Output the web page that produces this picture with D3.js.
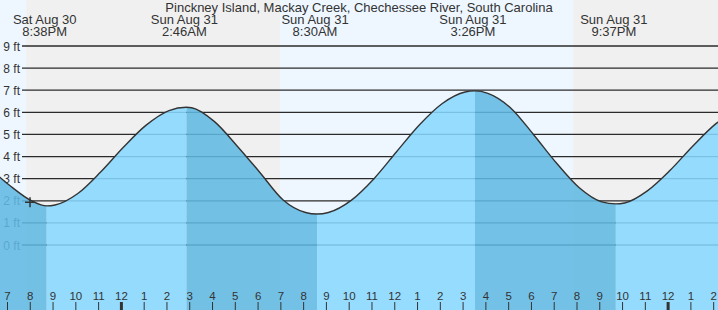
<!DOCTYPE html>
<html><head><meta charset="utf-8">
<script src="https://cdn.jsdelivr.net/npm/d3@7"></script>
<style>
body{margin:0;background:#fff;}
svg{display:block;}
text{font-family:"Liberation Sans",Arial,sans-serif;fill:#333;}
</style>
</head><body>
<svg id="c" width="718" height="310"></svg>
<script>
const title = "Pinckney Island, Mackay Creek, Chechessee River, South Carolina";
// hours relative to Sun Aug 31 00:00
const sampleHours = [-6,-5,-4,-3.367,-3,-2,-1,0,1,2,2.767,3,4,5,6,7,8,8.5,9,10,11,12,13,14,15,15.433,16,17,18,19,20,21,21.617,22,23,24,25,26,27];
const sampleFeet  = [3.60,2.70,1.98,1.77,1.81,2.33,3.30,4.42,5.42,6.08,6.23,6.21,5.58,4.47,3.27,2.05,1.47,1.40,1.47,2.02,3.00,4.23,5.44,6.40,6.92,6.97,6.86,6.20,5.00,3.72,2.60,1.95,1.86,1.90,2.45,3.38,4.48,5.48,6.14];
const extremeHours = [-3.367, 2.767, 8.5, 15.433, 21.617];
const extremeDays  = ["Sat Aug 30","Sun Aug 31","Sun Aug 31","Sun Aug 31","Sun Aug 31"];
const extremeTimes = ["8:38PM","2:46AM","8:30AM","3:26PM","9:37PM"];
const sunHours = [-4.27, 6.875, 19.74];      // sunset, sunrise, sunset
const tickHours = d3.range(-5, 27);
const tickLabels = ["7","8","9","10","11","12","1","2","3","4","5","6","7","8","9","10","11","12","1","2","3","4","5","6","7","8","9","10","11","12","1","2"];
const feetTicks = [0,1,2,3,4,5,6,7,8,9];
const nowHour = [-4.1];
const nowFeet = [1.98];

const W = 718, H = 310;
const svg = d3.select("#c");
const pxHour = 22.78;
const xT = d3.scaleLinear().domain([0, 24]).range([121.4, 121.4 + 24*pxHour]);   // labels/ticks
const xM = d3.scaleLinear().domain([0, 24]).range([123.4, 123.4 + 24*pxHour]);   // marks
const y = d3.scaleLinear().domain([0, 9]).range([245, 46]);

const tMin = xM.invert(0), tMax = xM.invert(W);

// background day/night bands
const bgEdges = [tMin, ...sunHours, tMax];
for (let i = 0; i < bgEdges.length - 1; i++) {
  svg.append("rect")
    .attr("x", xM(bgEdges[i])).attr("y", 0)
    .attr("width", xM(bgEdges[i+1]) - xM(bgEdges[i])).attr("height", H)
    .attr("fill", i % 2 === 0 ? "#eef7ff" : "#f0f0f0");
}

// gridlines
svg.append("g").selectAll("line").data(feetTicks).join("line")
  .attr("x1", 22).attr("x2", W)
  .attr("y1", d => y(d)).attr("y2", d => y(d))
  .attr("stroke", "#2b2b2b").attr("stroke-width", 1.3);

svg.append("g").selectAll("text").data(feetTicks).join("text")
  .attr("x", 20).attr("y", d => y(d) + 4.5)
  .attr("text-anchor", "end").attr("font-size", 12)
  .text(d => d + " ft");

// area
const pts = sampleHours.map((h, i) => [h, sampleFeet[i]]);
const area = d3.area().x(d => xM(d[0])).y0(H).y1(d => y(d[1])).curve(d3.curveMonotoneX);
const line = d3.line().x(d => xM(d[0])).y(d => y(d[1])).curve(d3.curveMonotoneX);

const defs = svg.append("defs");
defs.append("clipPath").attr("id", "ac").append("path").attr("d", area(pts));

const fillEdges = [tMin, ...extremeHours, tMax];
const ag = svg.append("g").attr("clip-path", "url(#ac)");
for (let i = 0; i < fillEdges.length - 1; i++) {
  ag.append("rect")
    .attr("x", xM(fillEdges[i])).attr("y", 0)
    .attr("width", xM(fillEdges[i+1]) - xM(fillEdges[i])).attr("height", H)
    .attr("fill", i % 2 === 0 ? "#60b9e3" : "#88d8ff")
    .attr("fill-opacity", 0.87);
}

svg.append("path").attr("d", line(pts))
  .attr("fill", "none").attr("stroke", "#333").attr("stroke-width", 1.4);

// now marker
svg.append("g").selectAll("path").data(nowHour).join("path")
  .attr("d", (d, i) => {
    const cx = xT(d) + 2, cy = y(nowFeet[i]) + 1;
    return `M${cx-5},${cy}H${cx+5}M${cx},${cy-5}V${cy+5}`;
  })
  .attr("stroke", "#333").attr("stroke-width", 1.5);

// title
svg.append("text").attr("x", W/2).attr("y", 12).attr("text-anchor", "middle")
  .attr("font-size", 13).text(title);

// extreme labels
const lg = svg.append("g").selectAll("g").data(extremeHours).join("g");
lg.append("text").attr("x", d => xT(d)).attr("y", 24).attr("text-anchor", "middle")
  .attr("font-size", 13).text((d, i) => extremeDays[i]);
lg.append("text").attr("x", d => xT(d)).attr("y", 36).attr("text-anchor", "middle")
  .attr("font-size", 13).text((d, i) => extremeTimes[i]);

// hour ticks
const tg = svg.append("g");
tg.selectAll("line").data(tickHours).join("line")
  .attr("x1", d => xT(d)).attr("x2", d => xT(d))
  .attr("y1", 302).attr("y2", H)
  .attr("stroke", "#333")
  .attr("stroke-width", (d, i) => tickLabels[i] === "12" && (d % 24 === 0) ? 3 : 1);
tg.selectAll("text").data(tickHours).join("text")
  .attr("x", d => xT(d)).attr("y", 299.5).attr("text-anchor", "middle")
  .attr("font-size", 11.5).text((d, i) => tickLabels[i]);
</script>
</body></html>
